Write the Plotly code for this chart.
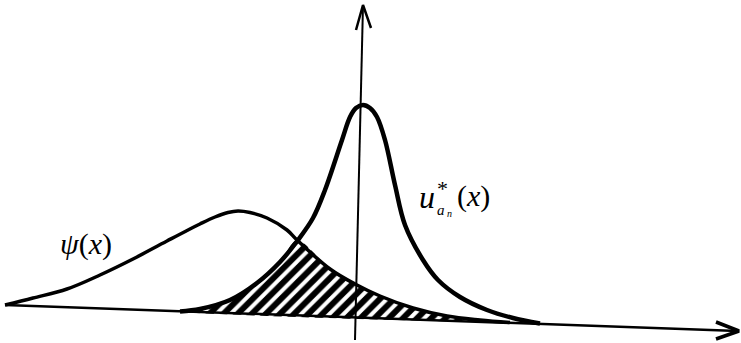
import plotly.graph_objects as go

# Sketch coordinates (screen frame: x to the right, y downward)

# Wide bump psi(x)
psi_x = [5, 33, 67, 100, 133, 167, 200, 215, 228, 238, 250, 267, 287, 297, 330, 355, 380, 413, 447, 480, 510]
psi_y = [305, 298, 289, 275, 259, 241, 224, 217, 212.5, 211, 212.5, 218, 230, 240, 269, 284, 296, 308, 316, 320, 322.5]

# Sharp peak u*_{a_n}(x)
u_x = [180, 200, 230, 257, 280, 298, 313, 325, 342, 350, 356, 363, 370, 377, 385, 395, 405, 423, 438, 460, 487, 513, 540]
u_y = [311.5, 309, 300, 283, 262, 240, 218, 190, 140, 117, 108, 105, 108, 117, 140, 185, 225, 260, 280, 297, 310, 318, 323.5]

# Overlap region: u* rising edge up to the crossing, then psi down to the axis
overlap_x = [180, 200, 230, 257, 280, 297, 330, 355, 380, 413, 447, 480, 510, 180]
overlap_y = [311.5, 309, 300, 283, 262, 240, 269, 284, 296, 308, 316, 320, 322.5, 311.5]

# Axes
haxis_x = [5, 738]
haxis_y = [305, 331]
vaxis_x = [355, 363]
vaxis_y = [340, 5]
harrow_x = [716, 739, 716]
harrow_y = [322, 331, 339]
varrow_x = [356, 363, 371]
varrow_y = [30, 5, 28]

fig = go.Figure()

fig.add_trace(go.Scatter(
    x=overlap_x, y=overlap_y, mode="lines", fill="toself",
    line=dict(width=0, color="rgba(0,0,0,0)", shape="spline", smoothing=0.8),
    fillcolor="white",
    fillpattern=dict(shape="/", size=10, solidity=0.6, fgcolor="black",
                     bgcolor="white", fgopacity=1),
    hoverinfo="skip",
))

fig.add_trace(go.Scatter(x=haxis_x, y=haxis_y, mode="lines",
                         line=dict(color="black", width=2.5)))
fig.add_trace(go.Scatter(x=vaxis_x, y=vaxis_y, mode="lines",
                         line=dict(color="black", width=2)))
fig.add_trace(go.Scatter(x=harrow_x, y=harrow_y, mode="lines",
                         line=dict(color="black", width=3.5)))
fig.add_trace(go.Scatter(x=varrow_x, y=varrow_y, mode="lines",
                         line=dict(color="black", width=2.5)))

fig.add_trace(go.Scatter(x=psi_x, y=psi_y, mode="lines",
                         line=dict(color="black", width=3.5, shape="spline", smoothing=1)))
fig.add_trace(go.Scatter(x=u_x, y=u_y, mode="lines",
                         line=dict(color="black", width=4.5, shape="spline", smoothing=1)))

serif = "Liberation Serif"

def label(text, x, y, size):
    fig.add_annotation(x=x, y=y, xref="x", yref="y", text=text, showarrow=False,
                       font=dict(family=serif, size=size, color="black"),
                       xanchor="center", yanchor="middle")

label("<i>ψ</i>(<i>x</i>)", 86, 244, 30)
label("<i>u</i>", 427, 197, 32)
label("*", 442, 188, 22)
label("<i>a</i>", 441, 210, 15)
label("<i>n</i>", 449, 213, 10)
label("(<i>x</i>)", 473, 196, 30)

fig.update_xaxes(range=[0, 741], visible=False, showgrid=False, zeroline=False)
fig.update_yaxes(range=[343, 0], visible=False, showgrid=False, zeroline=False)
fig.update_layout(width=741, height=343, margin=dict(l=0, r=0, t=0, b=0),
                  paper_bgcolor="white", plot_bgcolor="white", showlegend=False)

fig.write_html("out.html")
